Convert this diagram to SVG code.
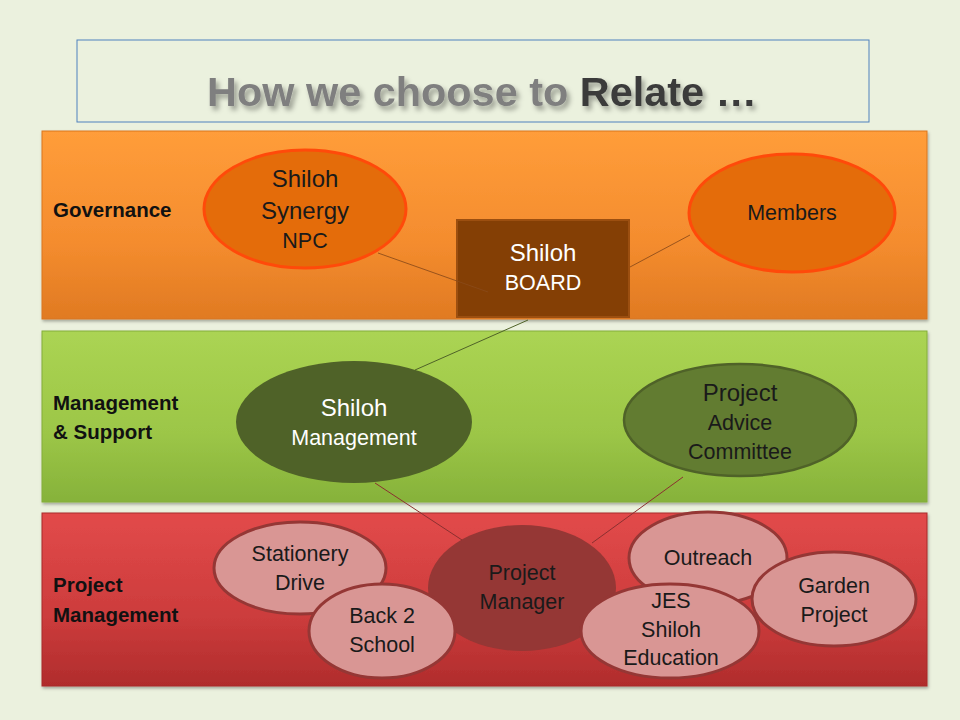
<svg xmlns="http://www.w3.org/2000/svg" width="960" height="720" viewBox="0 0 960 720">
<defs>
<linearGradient id="gOr" x1="0" y1="0" x2="0" y2="1"><stop offset="0" stop-color="#FF9D3A"/><stop offset="0.6" stop-color="#F48C2E"/><stop offset="1" stop-color="#E07A22"/></linearGradient>
<linearGradient id="gGr" x1="0" y1="0" x2="0" y2="1"><stop offset="0" stop-color="#ABD453"/><stop offset="0.6" stop-color="#9CC647"/><stop offset="1" stop-color="#86B23A"/></linearGradient>
<linearGradient id="gRd" x1="0" y1="0" x2="0" y2="1"><stop offset="0" stop-color="#E24A4A"/><stop offset="0.6" stop-color="#CC3C3C"/><stop offset="1" stop-color="#B02C2C"/></linearGradient>
<filter id="sh" x="-5%" y="-5%" width="110%" height="115%"><feDropShadow dx="1" dy="2" stdDeviation="1.5" flood-color="#000" flood-opacity="0.3"/></filter>
<filter id="tsh" x="-5%" y="-20%" width="110%" height="150%"><feDropShadow dx="3" dy="4" stdDeviation="2.5" flood-color="#000" flood-opacity="0.35"/></filter>
</defs>
<style>
text{font-family:"Liberation Sans",Arial,sans-serif;text-anchor:middle}
.lab{font-weight:bold;font-size:20.5px;fill:#111;text-anchor:start}
.big{font-size:24px}
.sm{font-size:21.5px}
.dk{fill:#1a1a1a}
.wh{fill:#fff}
.pink{fill:#D99694;stroke:#953735;stroke-width:3}
.con line{stroke-width:1}
</style>
<rect width="960" height="720" fill="#EBF1DE"/>
<g id="title">
<rect x="77" y="40" width="792" height="82" fill="#EBF1DE" stroke="#4F81BD" stroke-width="1"/>
<text x="482" y="106" font-size="41" font-weight="bold" filter="url(#tsh)" textLength="550" lengthAdjust="spacingAndGlyphs"><tspan fill="#7F7F7F">How we choose to </tspan><tspan fill="#3A3A3A">Relate …</tspan></text>
</g>
<g id="band-governance">
<rect x="42" y="131" width="885" height="188" fill="url(#gOr)" stroke="#D9761F" stroke-width="1" filter="url(#sh)"/>
<text class="lab" x="53" y="217">Governance</text>
</g>
<g id="band-management">
<rect x="42" y="331" width="885" height="171" fill="url(#gGr)" stroke="#84AE3A" stroke-width="1" filter="url(#sh)"/>
<text class="lab" x="53" y="410">Management</text>
<text class="lab" x="53" y="439">&amp; Support</text>
</g>
<g id="band-project">
<rect x="42" y="513" width="885" height="173" fill="url(#gRd)" stroke="#A82A2A" stroke-width="1" filter="url(#sh)"/>
<text class="lab" x="53" y="592">Project</text>
<text class="lab" x="53" y="622">Management</text>
</g>
<g id="synergy">
<ellipse cx="305" cy="209" rx="101" ry="59" fill="#E46C0A" stroke="#FF4A0A" stroke-width="3"/>
<text class="dk big" x="305" y="187">Shiloh</text>
<text class="dk big" x="305" y="219">Synergy</text>
<text class="dk sm" x="305" y="248">NPC</text>
</g>
<g id="members">
<ellipse cx="792" cy="213" rx="103" ry="59" fill="#E46C0A" stroke="#FF4A0A" stroke-width="3"/>
<text class="dk sm" x="792" y="220">Members</text>
</g>
<g id="board">
<rect x="457" y="220" width="172" height="97" fill="#843F05" stroke="#9C4F10" stroke-width="2"/>
<text class="wh big" x="543" y="261">Shiloh</text>
<text class="wh sm" x="543" y="290">BOARD</text>
</g>
<g id="shiloh-management">
<ellipse cx="354" cy="422" rx="118" ry="61" fill="#4F6228"/>
<text class="wh big" x="354" y="416">Shiloh</text>
<text class="wh sm" x="354" y="445">Management</text>
</g>
<g id="advice-committee">
<ellipse cx="740" cy="420" rx="116" ry="56" fill="#627C31" stroke="#4F6228" stroke-width="2.5"/>
<text class="dk big" x="740" y="401">Project</text>
<text class="dk sm" x="740" y="430">Advice</text>
<text class="dk sm" x="740" y="459">Committee</text>
</g>
<g id="project-manager">
<ellipse cx="522" cy="588" rx="94" ry="63" fill="#953735"/>
<text class="dk sm" x="522" y="580">Project</text>
<text class="dk sm" x="522" y="609">Manager</text>
</g>
<g id="stationery-drive">
<ellipse class="pink" cx="300" cy="568" rx="86" ry="46"/>
<text class="dk sm" x="300" y="561">Stationery</text>
<text class="dk sm" x="300" y="590">Drive</text>
</g>
<g id="back2school">
<ellipse class="pink" cx="382" cy="631" rx="73" ry="47"/>
<text class="dk sm" x="382" y="623">Back 2</text>
<text class="dk sm" x="382" y="652">School</text>
</g>
<g id="outreach">
<ellipse class="pink" cx="708" cy="558" rx="79" ry="46"/>
<text class="dk sm" x="708" y="565">Outreach</text>
</g>
<g id="jes">
<ellipse class="pink" cx="670" cy="631" rx="89" ry="47"/>
<text class="dk sm" x="671" y="608">JES</text>
<text class="dk sm" x="671" y="637">Shiloh</text>
<text class="dk sm" x="671" y="665">Education</text>
</g>
<g id="garden">
<ellipse class="pink" cx="834" cy="599" rx="82" ry="47"/>
<text class="dk sm" x="834" y="593">Garden</text>
<text class="dk sm" x="834" y="622">Project</text>
</g>
<g id="connectors" class="con">
<line x1="378" y1="253" x2="488" y2="292" stroke="#8A4A1A" stroke-opacity="0.85"/>
<line x1="630" y1="267" x2="690" y2="235" stroke="#8A4A1A" stroke-opacity="0.85"/>
<line x1="528" y1="320" x2="415" y2="370" stroke="#4F6228"/>
<line x1="375" y1="483" x2="462" y2="540" stroke="#8B3030"/>
<line x1="683" y1="477" x2="592" y2="543" stroke="#8B3030"/>
</g>
</svg>
